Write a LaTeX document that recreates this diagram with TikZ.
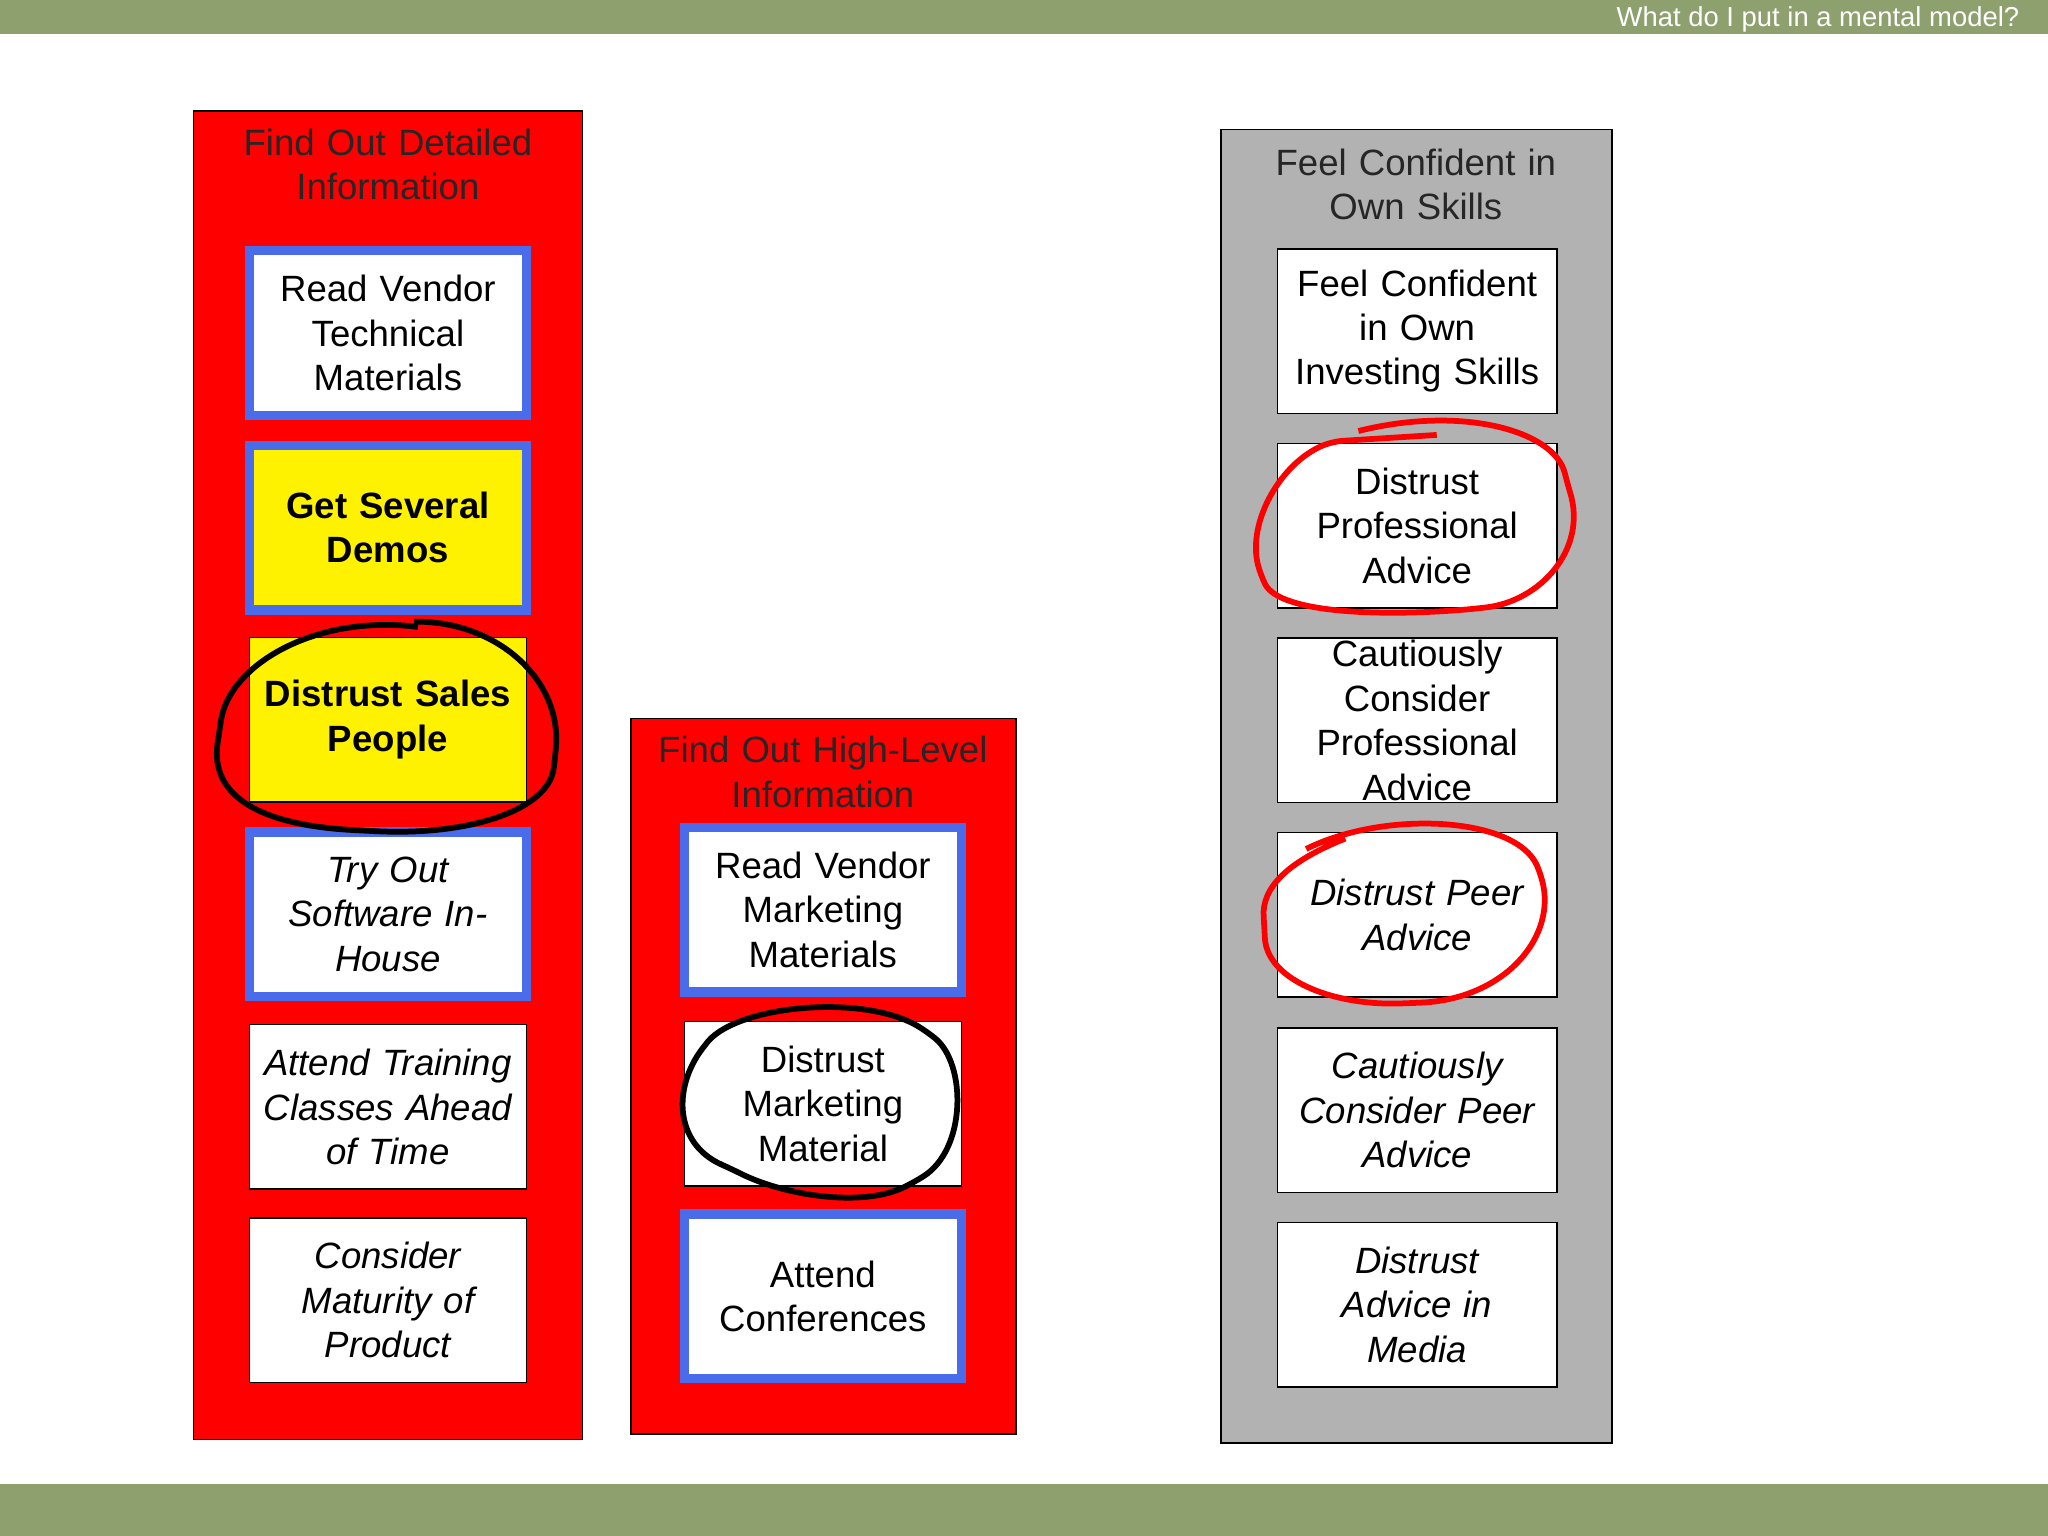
\documentclass[tikz,border=0pt]{standalone}
\usepackage{fontspec}
\setmainfont{Liberation Sans}
\begin{document}
\begin{tikzpicture}[x=0.5pt,y=-0.5pt,
  txt/.style={font=\fontsize{14}{17}\selectfont,align=center,text width=100pt},
  ttl/.style={font=\fontsize{14}{17}\selectfont,align=center,text width=140pt},
  box/.style={draw=black,line width=0.6pt,fill=white,inner sep=0pt},
  col/.style={draw=black,line width=0.6pt,inner sep=0pt},
  scrib/.style={line width=2.2pt,rounded corners}]
\definecolor{bar}{HTML}{8EA06E}
\definecolor{bl}{HTML}{4A6BEA}
\tikzset{bbox/.style={draw=bl,line width=3.5pt,fill=white,inner sep=0pt}}
\useasboundingbox (0,0) rectangle (1568,1176);
\fill[bar] (0,0) rectangle (1568,26);
\fill[bar] (0,1136) rectangle (1568,1176);
\node[anchor=east,text=white,font=\fontsize{10.5}{12}\selectfont] (hdr) at (1553,15) {What do I put in a mental model?};
% columns
\node[col,fill=red,minimum width=149pt,minimum height=508.5pt] (c1) at (297,593.5) {};
\node[col,fill=red,minimum width=147.5pt,minimum height=274pt] (c2) at (630.5,824) {};
\node[col,fill=gray!60,minimum width=149.5pt,minimum height=503pt] (c3) at (1084.5,602) {};
\node[ttl,text=black!85] (t1) at (297,126) {Find Out Detailed\\Information};
\node[ttl,text=black!85] (t2) at (630,591) {Find Out High-Level\\Information};
\node[ttl,text=black!85] (t3) at (1084,141) {Feel Confident in\\Own Skills};
% col1
\newcommand{\bx}[6]{\node[#1,minimum width=#2,minimum height=63pt] (#3) at (#4) {}; \node[txt,#5] at (#3) {#6};}
\bx{bbox}{106pt}{a1}{297,255}{}{Read Vendor\\Technical\\Materials}
\node[bbox,fill=yellow,minimum width=106pt,minimum height=63pt] (a2) at (297,404) {};
\node[txt,font=\fontsize{14}{17}\selectfont\bfseries] at (a2) {Get Several\\Demos};
\node[box,fill=yellow,minimum width=106pt,minimum height=63pt] (a3) at (297,551) {};
\node[txt,font=\fontsize{14}{17}\selectfont\bfseries] at (a3) {Distrust Sales\\People};
\bx{bbox}{106pt}{a4}{297,700}{font=\fontsize{14}{17}\selectfont\itshape}{Try Out\\Software In-\\House}
\bx{box}{106pt}{a5}{297,847.5}{font=\fontsize{14}{17}\selectfont\itshape}{Attend Training\\Classes Ahead\\of Time}
\bx{box}{106pt}{a6}{297,995.5}{font=\fontsize{14}{17}\selectfont\itshape}{Consider\\Maturity of\\Product}
% col2
\bx{bbox}{106pt}{b1}{630,696.5}{}{Read Vendor\\Marketing\\Materials}
\bx{box}{106pt}{b2}{630,845}{}{Distrust\\Marketing\\Material}
\bx{bbox}{106pt}{b3}{630,992.5}{}{Attend\\Conferences}
% col3
\bx{box}{107pt}{d1}{1085,253.5}{}{Feel Confident\\in Own\\Investing Skills}
\bx{box}{107pt}{d2}{1085,402.5}{}{Distrust\\Professional\\Advice}
\bx{box}{107pt}{d3}{1085,551.5}{}{Cautiously\\Consider\\Professional\\Advice}
\bx{box}{107pt}{d4}{1085,700.5}{font=\fontsize{14}{17}\selectfont\itshape}{Distrust Peer\\Advice}
\bx{box}{107pt}{d5}{1085,850}{font=\fontsize{14}{17}\selectfont\itshape}{Cautiously\\Consider Peer\\Advice}
\bx{box}{107pt}{d6}{1085,999}{font=\fontsize{14}{17}\selectfont\itshape}{Distrust\\Advice in\\Media}
% scribbles
\draw[scrib,black] (a3) ++(20,-75) .. controls (380,475) and (430,520) .. (425,580)
  .. controls (420,620) and (360,640) .. (280,636) .. controls (200,632) and (160,610) .. (168,560)
  .. controls (175,510) and (240,470) .. (320,480);
\draw[scrib,black] (540,800) .. controls (560,770) and (660,760) .. (710,790)
  .. controls (740,815) and (740,880) .. (700,905) .. controls (660,925) and (600,915) .. (560,895)
  .. controls (515,875) and (515,830) .. (540,800);
\draw[scrib,red] (1040,330) .. controls (1120,310) and (1190,330) .. (1200,370)
  .. controls (1215,420) and (1180,460) .. (1130,466) .. controls (1060,472) and (980,470) .. (965,440)
  .. controls (955,400) and (980,355) .. (1020,338) -- (1100,333);
\draw[scrib,red] (1000,650) .. controls (1060,620) and (1160,625) .. (1180,670)
  .. controls (1190,720) and (1150,765) .. (1080,768) .. controls (1020,770) and (970,750) .. (968,710)
  .. controls (966,680) and (985,660) .. (1030,642);
\end{tikzpicture}
\end{document}
